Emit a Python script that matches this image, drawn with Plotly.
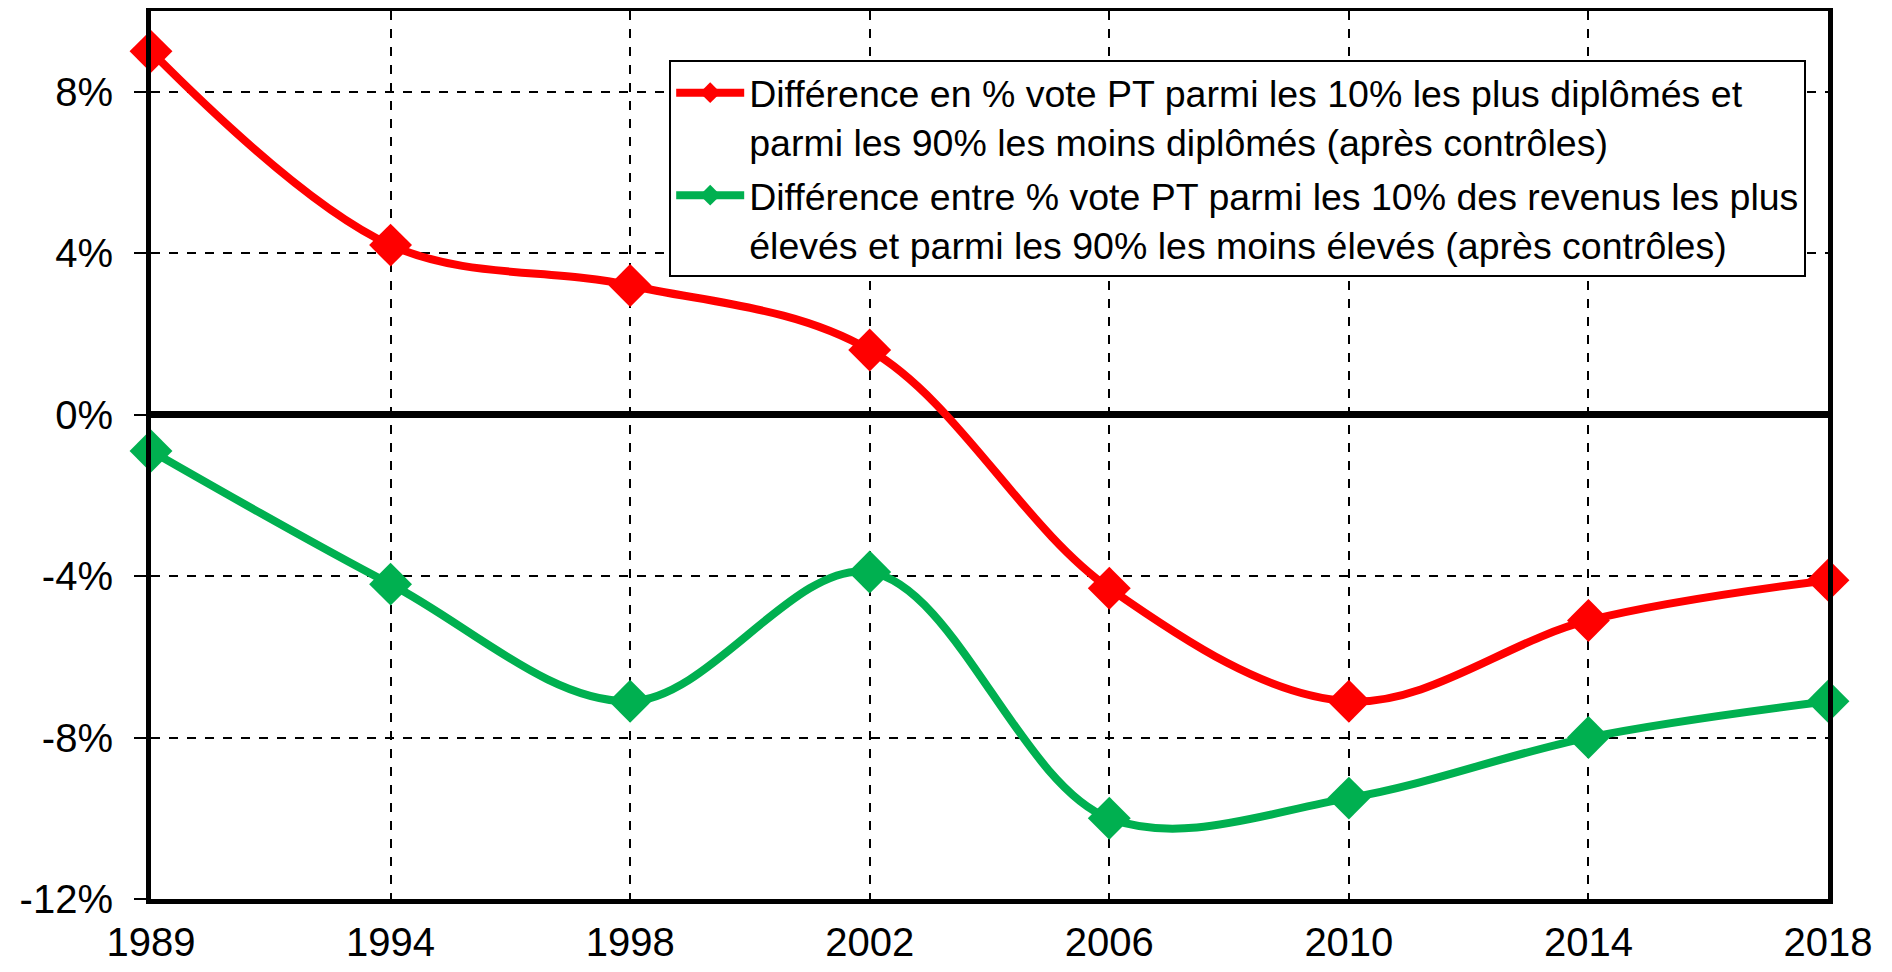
import plotly.graph_objects as go

years = ["1989", "1994", "1998", "2002", "2006", "2010", "2014", "2018"]
educ_diff = [9.0, 4.2, 3.2, 1.6, -4.3, -7.1, -5.1, -4.1]
income_diff = [-0.9, -4.2, -7.1, -3.9, -10.0, -9.5, -8.0, -7.1]
name_educ = "Différence en % vote PT parmi les 10% les plus diplômés et<br>parmi les 90% les moins diplômés (après contrôles)"
name_income = "Différence entre % vote PT parmi les 10% des revenus les plus<br>élevés et parmi les 90% les moins élevés (après contrôles)"
y_ticks = [-12, -8, -4, 0, 4, 8]
y_ticktext = ["-12%", "-8%", "-4%", "0%", "4%", "8%"]

FONT = "Arial, Liberation Sans, sans-serif"

fig = go.Figure()
fig.add_trace(go.Scatter(
    x=years, y=educ_diff, name=name_educ, mode="lines+markers",
    line=dict(color="#FF0000", width=8, shape="spline", smoothing=1.0),
    marker=dict(symbol="diamond", size=33, color="#FF0000"),
    cliponaxis=False, legendgroup="a",
))
fig.add_trace(go.Scatter(
    x=years, y=income_diff, name=name_income, mode="lines+markers",
    line=dict(color="#00B050", width=8, shape="spline", smoothing=1.0),
    marker=dict(symbol="diamond", size=33, color="#00B050"),
    cliponaxis=False, legendgroup="b",
))

fig.update_layout(
    width=1892, height=972,
    margin=dict(l=143, r=72, t=3, b=81, autoexpand=False),
    paper_bgcolor="white", plot_bgcolor="white",
    font=dict(family=FONT, color="black", size=40),
    showlegend=True,
    legend=dict(
        x=0.309, y=0.945, xanchor="left", yanchor="top",
        bgcolor="white", bordercolor="black", borderwidth=2,
        font=dict(family=FONT, size=37.5, color="black"),
        traceorder="grouped", tracegroupgap=2, valign="top",
        itemwidth=68,
    ),
)
fig.update_xaxes(
    type="category", range=[0, 7], automargin=False,
    showline=True, linecolor="black", linewidth=5, mirror=True,
    showgrid=True, gridcolor="black", gridwidth=1.5, griddash="dash",
    ticks="", ticklabelstandoff=4,
    tickfont=dict(family=FONT, size=40, color="black"),
)
fig.update_yaxes(
    range=[-12, 10], tickvals=y_ticks, ticktext=y_ticktext, automargin=False,
    showline=True, linecolor="black", linewidth=5, mirror=True,
    showgrid=True, gridcolor="black", gridwidth=1.5, griddash="dash",
    zeroline=True, zerolinecolor="black", zerolinewidth=7,
    ticks="outside", ticklen=12, tickcolor="black", tickwidth=1.5,
    ticklabelstandoff=13,
    tickfont=dict(family=FONT, size=40, color="black"),
)

fig.write_html("out.html")
